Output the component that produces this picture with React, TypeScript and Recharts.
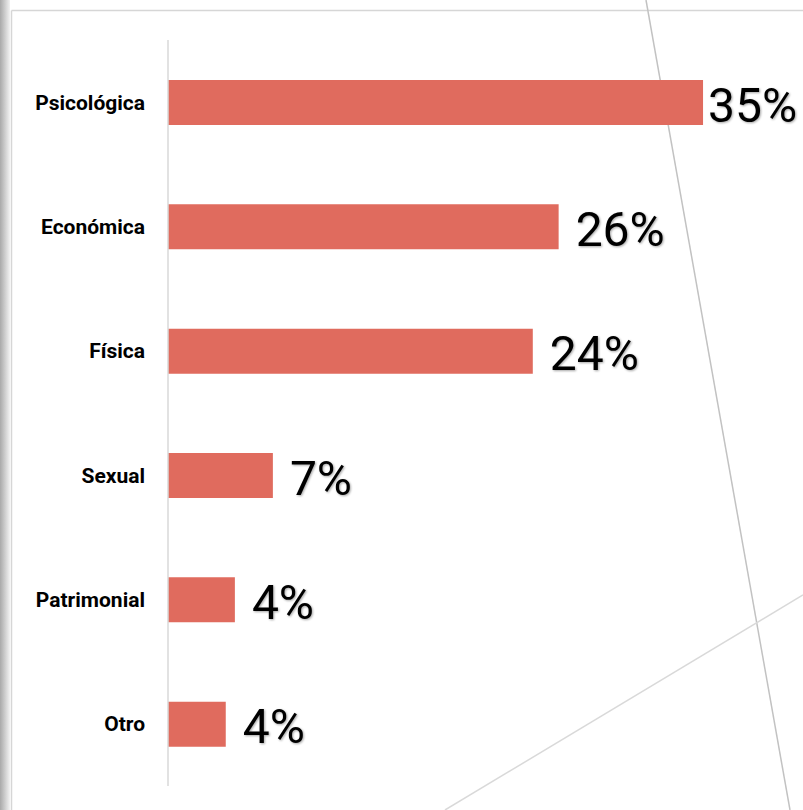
import React from "react";
import { BarChart, Bar, XAxis, YAxis, LabelList } from "recharts";

// categories and share of cases (%)
const categories = ["Psicológica", "Económica", "Física", "Sexual", "Patrimonial", "Otro"];
const shares = [35.2, 25.7, 24.0, 6.9, 4.4, 3.8];

const data = categories.map((name, i) => ({ name, value: shares[i] }));

const BAR_COLOR = "#E06B5E";
const LABEL_SIZE = 48;
const RIGHT_LIMIT = 797;

// rough text width for Roboto digits / percent sign
const estimateWidth = (s: string) =>
  s.split("").reduce((w, ch) => w + (ch === "%" ? 0.732 : 0.5615), 0) * LABEL_SIZE;

const renderValueLabel = (props: any) => {
  const { x, y, width, height, value } = props;
  const text = `${Math.round(value)}%`;
  // keep the label inside the chart, like Excel does
  const start = Math.min(x + width + 17, RIGHT_LIMIT - estimateWidth(text));
  return (
    <text
      x={start}
      y={y + height / 2 + 19}
      fill="#000"
      fontSize={LABEL_SIZE}
      fontFamily="Roboto, sans-serif"
      style={{ filter: "drop-shadow(1px 1px 1px rgba(0,0,0,0.35))" }}
    >
      {text}
    </text>
  );
};

// slide-like backdrop (borders and the thin decorative lines)
const Backdrop = () => (
  <svg width={803} height={810} style={{ position: "absolute", left: 0, top: 0 }}>
    <defs>
      <linearGradient id="edge" x1="0" x2="1" y1="0" y2="0">
        <stop offset="0%" stopColor="#a9a9a9" />
        <stop offset="100%" stopColor="#f2f2f2" />
      </linearGradient>
    </defs>
    <rect x={0} y={0} width={10} height={810} fill="url(#edge)" />
    <line x1={11.5} y1={10.5} x2={11.5} y2={810} stroke="#d6d6d6" strokeWidth={1.5} />
    <line x1={11.5} y1={10.5} x2={803} y2={10.5} stroke="#d6d6d6" strokeWidth={1.5} />
    <line x1={646} y1={0} x2={790} y2={810} stroke="#c2c2c2" strokeWidth={1.5} />
    <line x1={445} y1={810} x2={803} y2={595} stroke="#d9d9d9" strokeWidth={1.5} />
  </svg>
);

export default function App() {
  return (
    <div
      style={{
        position: "absolute",
        left: 0,
        top: 0,
        width: 803,
        height: 810,
        background: "#fff",
        overflow: "hidden",
      }}
    >
      <Backdrop />
      <div style={{ position: "absolute", left: 0, top: 0 }}>
        <BarChart
          width={803}
          height={810}
          data={data}
          layout="vertical"
          margin={{ top: 40, right: 27, bottom: 24, left: 0 }}
          barSize={45}
        >
          <XAxis type="number" domain={[0, 40]} hide />
          <YAxis
            type="category"
            dataKey="name"
            width={168}
            axisLine={{ stroke: "#d9d9d9", strokeWidth: 1.5 }}
            tickLine={false}
            tickSize={0}
            tickMargin={23}
            tick={{
              fill: "#000",
              fontSize: 21,
              fontWeight: 700,
              fontFamily: "Roboto, sans-serif",
            }}
          />
          <Bar dataKey="value" fill={BAR_COLOR} isAnimationActive={false}>
            <LabelList dataKey="value" content={renderValueLabel} />
          </Bar>
        </BarChart>
      </div>
    </div>
  );
}
